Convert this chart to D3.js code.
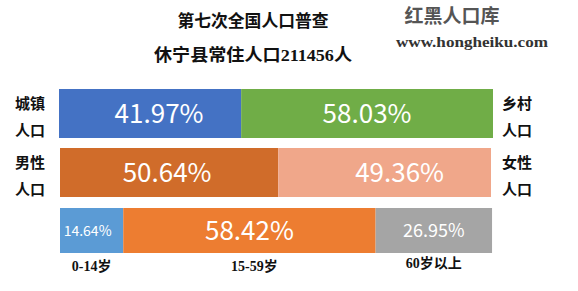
<!DOCTYPE html>
<html>
<head>
<meta charset="utf-8">
<script src="https://cdn.jsdelivr.net/npm/d3@7"></script>
<style>
  body { margin: 0; background: #fff; }
  svg { display: block; }
</style>
</head>
<body>
<div id="chart"></div>
<script>
// 第七次人口普查 休宁县 比例
var titleLines = ['第七次全国人口普查', '休宁县常住人口211456人'];

var urbanRural = [41.97, 58.03];          // 城镇, 乡村
var maleFemale = [50.64, 49.36];          // 男性, 女性
var ageGroups = [14.64, 58.42, 26.95];    // 0-14, 15-59, 60+

var ageLabels = ['0-14岁', '15-59岁', '60岁以上'];
var leftLabels = [['城镇', '人口'], ['男性', '人口']];
var rightLabels = [['乡村', '人口'], ['女性', '人口']];

var width = 578, height = 291;
var serif = '"Liberation Serif", "DejaVu Serif", "Noto Sans CJK SC", serif';
var sans = '"Noto Sans CJK SC", "Noto Sans", sans-serif';

var svg = d3.select('#chart').append('svg')
    .attr('width', width)
    .attr('height', height);

// titles
svg.selectAll('text.title')
    .data(titleLines)
    .enter()
    .append('text')
    .attr('class', 'title')
    .attr('x', 253)
    .attr('y', function (d, i) { return 27 + i * 34; })
    .attr('text-anchor', 'middle')
    .attr('textLength', function (d, i) { return i === 0 ? 151 : 198; })
    .attr('lengthAdjust', 'spacingAndGlyphs')
    .style('font-family', serif)
    .style('font-weight', 'bold')
    .style('font-size', '17px')
    .style('fill', '#111')
    .text(function (d) { return d; });

// watermark
svg.append('text')
    .attr('x', 452).attr('y', 23)
    .attr('text-anchor', 'middle')
    .style('font-family', serif)
    .style('font-weight', 'bold')
    .style('font-size', '19px')
    .style('fill', '#555')
    .text('红黑人口库');
svg.append('text')
    .attr('x', 472).attr('y', 47)
    .attr('text-anchor', 'middle')
    .attr('textLength', 152)
    .attr('lengthAdjust', 'spacingAndGlyphs')
    .style('font-family', serif)
    .style('font-weight', 'bold')
    .style('font-size', '14px')
    .style('fill', '#333')
    .text('www.hongheiku.com');

// rows: each a stacked 100% bar
var rows = [
    { values: urbanRural, x0: 59, x1: 493, y: 89, h: 49,
      colors: ['#4472C4', '#70AD47'], sizes: [26, 26], shift: [9, 0] },
    { values: maleFemale, x0: 60, x1: 491, y: 148, h: 49,
      colors: ['#D06C2A', '#F0A78A'], sizes: [26, 26], shift: [-2, 15] },
    { values: ageGroups, x0: 60, x1: 492, y: 208, h: 45,
      colors: ['#5B9BD5', '#ED7D31', '#A5A5A5'], sizes: [14, 26, 18], shift: [-4, 0, 0] }
];

rows.forEach(function (row) {
    var x = d3.scaleLinear().domain([0, 100]).range([row.x0, row.x1]);
    var acc = 0;
    var segs = row.values.map(function (v, i) {
        var s = { start: acc, end: acc + v, value: v, i: i };
        acc += v;
        return s;
    });

    var g = svg.append('g');
    g.selectAll('rect')
        .data(segs)
        .enter()
        .append('rect')
        .attr('x', function (d) { return x(d.start); })
        .attr('y', row.y)
        .attr('width', function (d) { return x(d.end) - x(d.start); })
        .attr('height', row.h)
        .style('fill', function (d) { return row.colors[d.i]; });

    g.selectAll('text')
        .data(segs)
        .enter()
        .append('text')
        .attr('x', function (d) { return (x(d.start) + x(d.end)) / 2 + row.shift[d.i]; })
        .attr('y', row.y + row.h / 2)
        .attr('dy', '0.36em')
        .attr('text-anchor', 'middle')
        .style('font-family', sans)
        .style('font-size', function (d) { return row.sizes[d.i] + 'px'; })
        .style('fill', '#fff')
        .text(function (d) { return d.value.toFixed(2) + '%'; });

    row.x = x;
    row.segs = segs;
});

// side labels
function sideLabels(list, xPos) {
    list.forEach(function (pair, r) {
        svg.selectAll(null)
            .data(pair)
            .enter()
            .append('text')
            .attr('x', xPos)
            .attr('y', function (d, i) { return rows[r].y + 20 + i * 27; })
            .style('font-family', serif)
            .style('font-weight', 'bold')
            .style('font-size', '15px')
            .style('fill', '#111')
            .text(function (d) { return d; });
    });
}
sideLabels(leftLabels, 15);
sideLabels(rightLabels, 502);

// age labels below the third bar
var ageRow = rows[2];
svg.selectAll('text.age')
    .data(ageRow.segs)
    .enter()
    .append('text')
    .attr('class', 'age')
    .attr('x', function (d) { return (ageRow.x(d.start) + ageRow.x(d.end)) / 2 + [0, 5, 0][d.i]; })
    .attr('y', function (d) { return d.i === 2 ? 268 : 271; })
    .attr('text-anchor', 'middle')
    .style('font-family', serif)
    .style('font-weight', 'bold')
    .style('font-size', '14px')
    .style('fill', '#111')
    .text(function (d) { return ageLabels[d.i]; });
</script>
</body>
</html>
